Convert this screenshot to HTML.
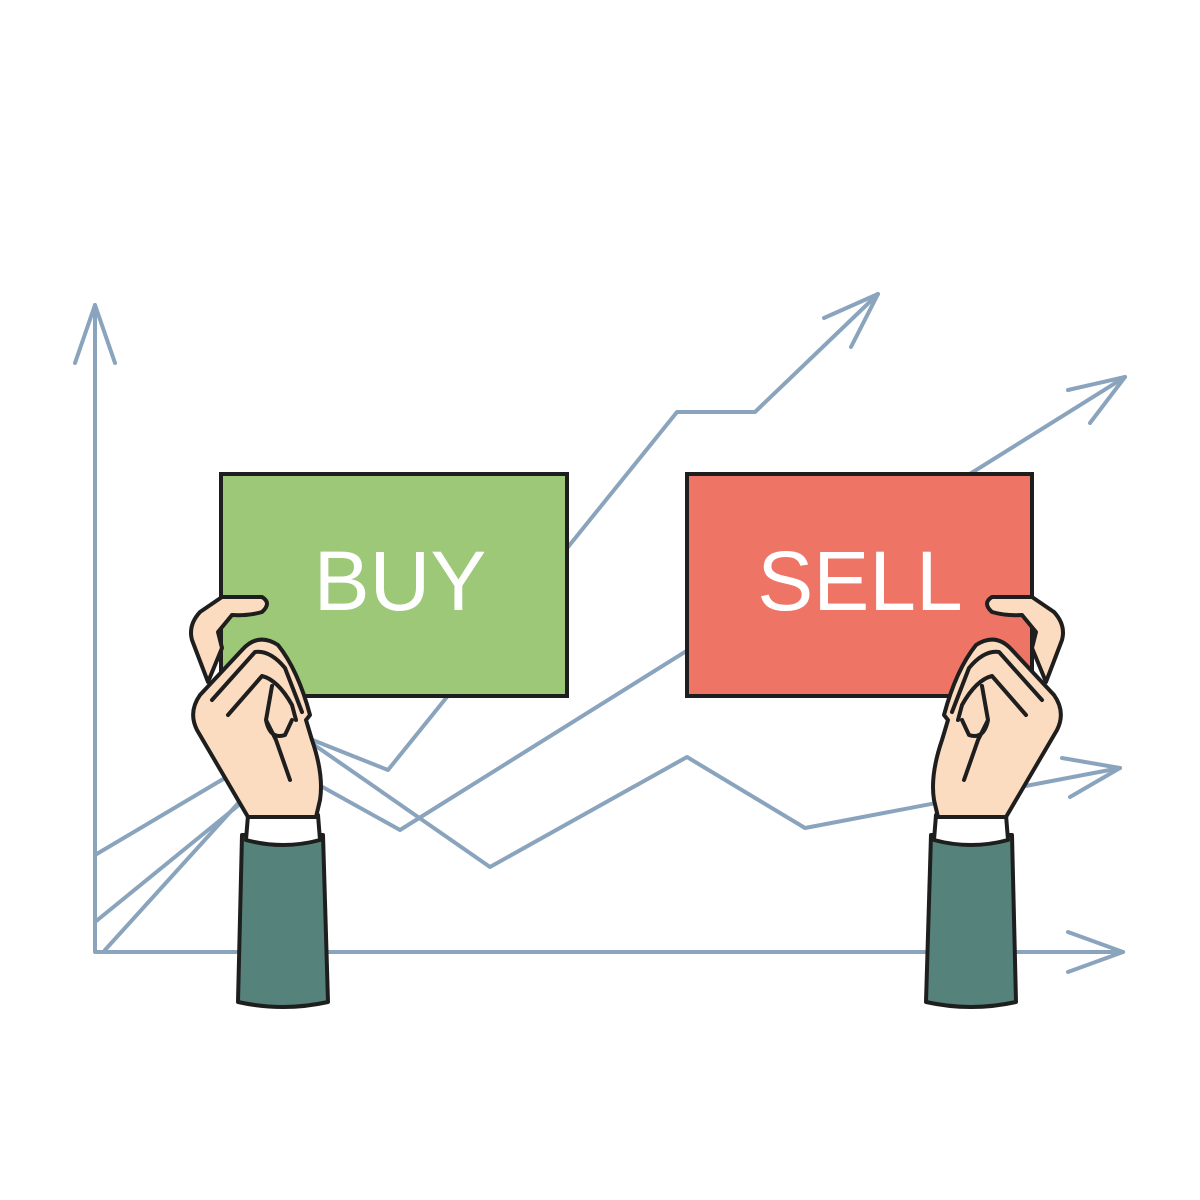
<!DOCTYPE html>
<html><head><meta charset="utf-8"><style>html,body{margin:0;padding:0;background:#fff}svg{display:block}</style></head>
<body>
<svg width="1200" height="1200" viewBox="0 0 1200 1200" xmlns="http://www.w3.org/2000/svg">
<defs>
<g id="hand">
  <path d="M238,1002 L242,835 L323,835 L328,1002 Q283,1012 238,1002 Z" fill="#56827c" stroke="#1e1e1e" stroke-width="4" stroke-linejoin="round"/>
  <path d="M246,840 L248,815 L318,815 L320,840 Q283,850 246,840 Z" fill="#fff" stroke="#1e1e1e" stroke-width="4" stroke-linejoin="round"/>
  <path d="M208,682 L192,640 Q188,625 200,612 L222,597 L262,597 Q272,603 262,612 Q248,616 232,615 L218,632 L222,648 Z" fill="#fcdcc0" stroke="#1e1e1e" stroke-width="4" stroke-linejoin="round"/>
  <path d="M248,817 L197,730 Q188,712 200,695 L242,650 Q258,632 278,645 Q298,670 310,715 L306,720 L312,740 Q324,775 320,800 L316,817 Z" fill="#fcdcc0" stroke="#1e1e1e" stroke-width="4" stroke-linejoin="round"/>
  <path d="M212,700 L255,652 Q270,650 285,668 L302,712 M228,715 L262,676 Q278,680 292,705 L296,720 M272,686 L266,720 L276,740 L290,780 M266,720 Q270,740 285,735 L292,720" fill="none" stroke="#1e1e1e" stroke-width="4" stroke-linecap="round" stroke-linejoin="round"/>
</g>
</defs>
<g fill="none" stroke="#8aa4bd" stroke-width="4" stroke-linecap="round" stroke-linejoin="round">
  <path d="M95,305 L95,952 L1123,952"/>
  <path d="M75,363 L95,305 L115,363"/>
  <path d="M1068,932 L1123,952 L1068,972"/>
  <path d="M105,950 L300,735 L388,770 L677,412 L755,412 L878,294"/>
  <path d="M824,318 L878,294 L851,347"/>
  <path d="M95,855 L230,775 M310,780 L400,830 L1125,377"/>
  <path d="M1068,390 L1125,377 L1090,423"/>
  <path d="M95,922 L245,800 M300,735 L490,867 L687,757 L805,828 L1120,768"/>
  <path d="M1062,758 L1120,768 L1070,797"/>
</g>
<rect x="221" y="474" width="346" height="222" fill="#9cc877" stroke="#1e1e1e" stroke-width="4"/>
<rect x="687" y="474" width="345" height="222" fill="#ee7566" stroke="#1e1e1e" stroke-width="4"/>
<text x="400" y="610" text-anchor="middle" font-family="Liberation Sans, sans-serif" font-size="84" fill="#fff">BUY</text>
<text x="860" y="610" text-anchor="middle" font-family="Liberation Sans, sans-serif" font-size="84" fill="#fff">SELL</text>
<use href="#hand"/>
<use href="#hand" transform="translate(1254,0) scale(-1,1)"/>
</svg>
</body></html>
